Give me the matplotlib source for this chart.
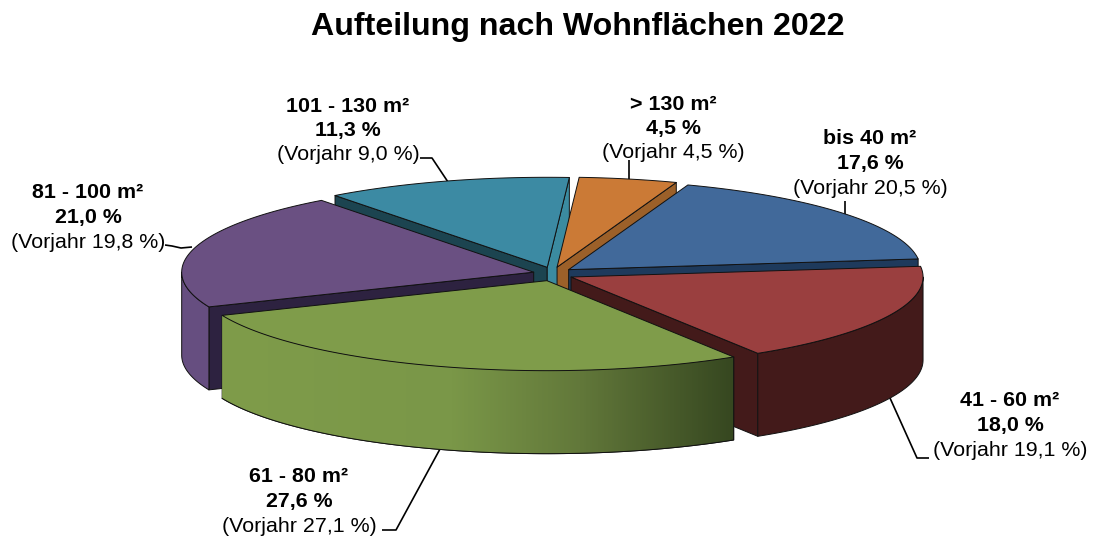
import numpy as np
import matplotlib
matplotlib.use('Agg')
import matplotlib.pyplot as plt
from matplotlib.colors import LinearSegmentedColormap
from matplotlib.patches import Polygon

plt.rcParams['font.family'] = ['Liberation Sans', 'DejaVu Sans']

# Daten
kategorien = ['bis 40 m²', '41 - 60 m²', '61 - 80 m²', '81 - 100 m²', '101 - 130 m²', '> 130 m²']
anteile = [17.6, 18.0, 27.6, 21.0, 11.3, 4.5]
anteile_text = ['17,6 %', '18,0 %', '27,6 %', '21,0 %', '11,3 %', '4,5 %']
vorjahr_text = ['20,5 %', '19,1 %', '27,1 %', '19,8 %', '9,0 %', '4,5 %']

# Farben: Oberseite, Außenwand, Schnittfläche
farbe_oben = ['#41699a', '#9a3f3f', '#7f9c4a', '#6a5082', '#3c8aa3', '#cb7a36']
farbe_wand = ['#1e3a5c', '#431a1a', '#7f9c4a', '#664e80', '#1c4450', '#9c6029']
farbe_schnitt = ['#1e3a5c', '#431a1a', '#3a4a20', '#2d2240', '#1c4450', '#9c6029']
farbe_schnitt_ende = ['#1e3a5c', '#431a1a', '#3a4a20', '#2d2240', '#3b8ba0', '#9c6029']

# Geometrie der Torte in Pixeln
mitte_x, mitte_y = 553, 274
rx, ry = 352, 90
tiefe = 83
versatz_x, versatz_y = 20, 7
start_winkel = 19.8

# Reihenfolge beim Zeichnen: von hinten nach vorne
reihenfolge = [4, 5, 0, 3, 1, 2]

# Beschriftungen: Mittelpunkt x und oberste Zeile y
label_pos = [(870, 139), (1010, 401), (299, 477), (88, 193), (348, 106), (673, 104)]

# Führungslinien
leader = [
    ([845, 845], [201, 216]),
    ([890, 917, 929], [398, 458, 458]),
    ([440, 396, 382], [449, 530, 530]),
    ([165, 172, 181, 192], [245, 246, 248, 247]),
    ([420, 432, 448], [158, 158, 182]),
    ([629, 629], [160, 181]),
]


def bogen(cx, cy, t0, t1, dy=0):
    t = np.radians(np.linspace(t0, t1, 120))
    return np.column_stack([cx + rx * np.sin(t), cy - ry * np.cos(t) + dy])


def flaeche(ax, punkte, farbe, zorder, lw=0.7):
    p = Polygon(punkte, closed=True, facecolor=farbe, edgecolor='#111111',
                linewidth=lw, joinstyle='round', zorder=zorder)
    ax.add_patch(p)
    return p


fig = plt.figure(figsize=(10.93, 5.37), dpi=100)
ax = fig.add_axes([0, 0, 1, 1])

grenzen = start_winkel + 3.6 * np.concatenate([[0], np.cumsum(anteile)])
gruen_verlauf = LinearSegmentedColormap.from_list(
    'gruen', [(0, '#7f9c4a'), (0.45, '#7a9748'), (0.7, '#62783a'), (1, '#364720')])

z = 1
for i in reihenfolge:
    t0, t1 = grenzen[i], grenzen[i + 1]
    tm = np.radians((t0 + t1) / 2)
    cx = mitte_x + versatz_x * np.sin(tm)
    cy = mitte_y - versatz_y * np.cos(tm)
    rand = bogen(cx, cy, t0, t1)

    # Schnittflächen, nur wenn sie zum Betrachter zeigen
    if np.sin(np.radians(t0)) < 0:
        flaeche(ax, [(cx, cy), rand[0], rand[0] + [0, tiefe], (cx, cy + tiefe)],
                farbe_schnitt[i], z)
        z += 1
    if np.sin(np.radians(t1)) > 0:
        flaeche(ax, [(cx, cy), rand[-1], rand[-1] + [0, tiefe], (cx, cy + tiefe)],
                farbe_schnitt_ende[i], z)
        z += 1

    # Außenwand, sichtbarer Teil zwischen 90 und 270 Grad
    for k in (0, 360):
        w0, w1 = max(t0, 90 + k), min(t1, 270 + k)
        if w0 >= w1:
            continue
        oben = bogen(cx, cy, w0, w1)
        unten = bogen(cx, cy, w1, w0, tiefe)
        wand = flaeche(ax, np.vstack([oben, unten]), farbe_wand[i], z)
        z += 1
        if i == 2:
            xs = np.concatenate([oben[:, 0], unten[:, 0]])
            ys = np.concatenate([oben[:, 1], unten[:, 1]])
            # Verlauf läuft von links hell nach rechts dunkel
            bild = ax.imshow(np.linspace(1, 0, 256)[None, :][:, ::-1], cmap=gruen_verlauf,
                             extent=[xs.min(), xs.max(), ys.max(), ys.min()],
                             aspect='auto', zorder=z, vmin=0, vmax=1)
            bild.set_clip_path(wand)
            z += 1
            ax.plot(np.append(unten[:, 0], oben[0, 0]), np.append(unten[:, 1], oben[0, 1]),
                    color='#111111', lw=0.7, zorder=z)
            z += 1

    flaeche(ax, np.vstack([[cx, cy], rand]), farbe_oben[i], z)
    z += 1

for (lx, ly) in leader:
    ax.plot(lx, ly, color='black', lw=1.2, zorder=0, solid_capstyle='butt')

for name, wert, vor, (x, y) in zip(kategorien, anteile_text, vorjahr_text, label_pos):
    ax.text(x, y, name, ha='center', va='center', fontsize=15.4, fontweight='bold')
    ax.text(x, y + 24.5, wert, ha='center', va='center', fontsize=15.4, fontweight='bold')
    ax.text(x, y + 49, '(Vorjahr ' + vor + ')', ha='center', va='center', fontsize=15.4)

ax.text(578, 27, 'Aufteilung nach Wohnflächen 2022', ha='center', va='center',
        fontsize=23.1, fontweight='bold')

ax.set_xlim(0, 1093)
ax.set_ylim(537, 0)
ax.axis('off')

fig.savefig('out.png', dpi=100)
